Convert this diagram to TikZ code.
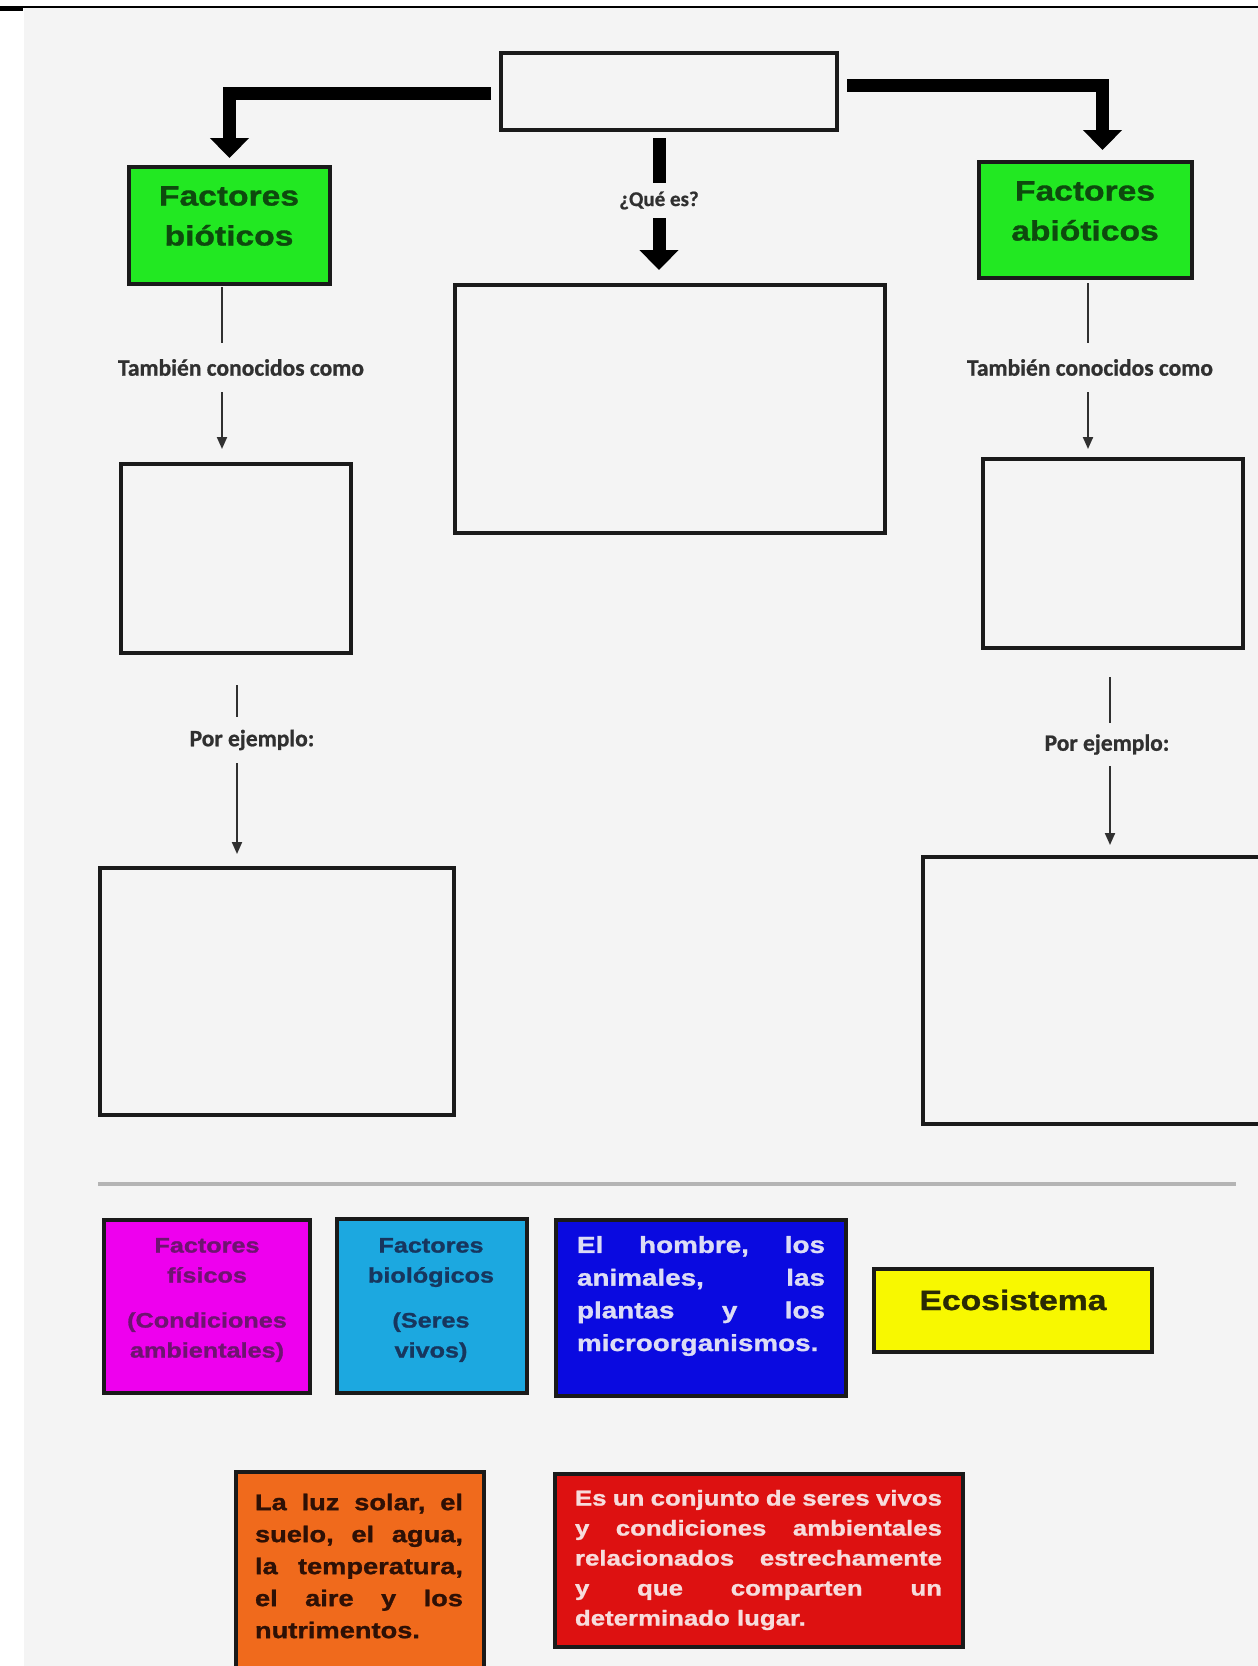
\documentclass[tikz,border=0pt]{standalone}
\usepackage{fontspec}
\setmainfont{Liberation Sans}
\newfontfamily\arx[FakeStretch=1.2, BoldFeatures={FakeBold=1.2}]{Liberation Sans}
\newfontfamily\carl[BoldFeatures={FakeBold=0.8}]{Carlito}
\usetikzlibrary{arrows.meta}
\definecolor{bg}{HTML}{F4F4F4}
\definecolor{boxline}{HTML}{1A1A1A}
\definecolor{greenfill}{HTML}{22E822}
\definecolor{greentxt}{HTML}{0E4A0E}
\definecolor{magfill}{HTML}{EE00EE}
\definecolor{magtxt}{HTML}{6E1470}
\definecolor{cyanfill}{HTML}{1CA8E0}
\definecolor{cyantxt}{HTML}{17365E}
\definecolor{bluefill}{HTML}{0A0AE0}
\definecolor{bluetxt}{HTML}{DCDCF5}
\definecolor{yelfill}{HTML}{F8F800}
\definecolor{yeltxt}{HTML}{2A2A05}
\definecolor{orafill}{HTML}{F06A1C}
\definecolor{oratxt}{HTML}{2E1005}
\definecolor{redfill}{HTML}{DD1111}
\definecolor{redtxt}{HTML}{F7DCDC}
\definecolor{lbl}{HTML}{303030}
\definecolor{sep}{HTML}{B4B4B4}
\begin{document}
\begin{tikzpicture}[x=1pt,y=-1pt,
  box/.style={draw=boxline, line width=3.5pt, inner sep=0pt, outer sep=0pt, rectangle},
  bigline/.style={line width=13pt, draw=black},
  bigarrow/.style={line width=13pt, draw=black, -{Triangle[width=38pt,length=20pt]}},
  thinline/.style={line width=2pt, draw=lbl},
  thinarrow/.style={line width=2pt, draw=lbl, -{Triangle[width=10pt,length=12pt]}},
  lab/.style={inner sep=0pt, outer sep=0pt, text=lbl, font=\carl\bfseries\fontsize{23.5}{26}\selectfont},
  txt/.style={inner sep=0pt, outer sep=0pt}
]
\useasboundingbox (0,0) rectangle (1258,1666);
\fill[white] (0,0) rectangle (1258,1666);
\fill[bg] (24,8) rectangle (1258,1666);
\draw[black, line width=2pt] (0,6.5) -- (1258,6.5);
\fill[black] (0,7) rectangle (23,11);

% top part
\node[box, minimum width=336pt, minimum height=77pt] (top) at (669,91.5) {};
\node[box, minimum width=430pt, minimum height=248pt] (cbox) at (670,409) {};
\node[box, fill=greenfill, minimum width=201pt, minimum height=117pt] (bio) at (229.5,225.5) {};
\node[box, fill=greenfill, minimum width=213pt, minimum height=116pt] (abio) at (1085.5,220) {};
\node[txt, text=greentxt, align=center, font=\arx\bfseries\fontsize{28}{40}\selectfont] (biot) at (229,216) {Factores\\bióticos};
\node[txt, text=greentxt, align=center, font=\arx\bfseries\fontsize{28}{40}\selectfont] (abiot) at (1085,211) {Factores\\abióticos};

\node[box, minimum width=230pt, minimum height=189pt] (lb2) at (236,558.5) {};
\node[box, minimum width=260pt, minimum height=189pt] (rb2) at (1113,553.5) {};
\node[box, minimum width=354pt, minimum height=247pt] (lb3) at (277,991.5) {};
\node[box, minimum width=352pt, minimum height=267pt] (rb3) at (1099,990.5) {};

% thick arrows
\draw[bigarrow, shorten <=10pt, shorten >=9pt] ([yshift=-2pt]top.west) -| (bio.north);
\draw[bigarrow, shorten <=10pt, shorten >=12pt] ([yshift=6pt]top.east) -| ([xshift=17pt]abio.north);
\node[lab, font=\carl\bfseries\fontsize{21}{24}\selectfont, minimum height=35pt] (que) at (659,200.5) {¿Qué es?};
\draw[bigline, shorten <=8pt] (top.south -| que.north) -- (que.north);
\draw[bigarrow, shorten >=15pt] (que.south) -- (cbox.north -| que.south);

% thin connectors
\coordinate (xl1) at (222,0);
\coordinate (xr1) at (1088,0);
\coordinate (xl2) at (237,0);
\coordinate (xr2) at (1110,0);
\node[lab, minimum height=49pt] (tam1) at (241,367.5) {También conocidos como};
\node[lab, minimum height=49pt] (tam2) at (1090,367.5) {También conocidos como};
\node[lab, minimum height=46pt] (por1) at (252,740) {Por ejemplo:};
\node[lab, minimum height=43pt] (por2) at (1107,744.5) {Por ejemplo:};
\draw[thinline, shorten <=3pt] (bio.south -| xl1) -- (tam1.north -| xl1);
\draw[thinarrow, shorten >=15pt] (tam1.south -| xl1) -- (lb2.north -| xl1);
\draw[thinline, shorten <=5pt] (abio.south -| xr1) -- (tam2.north -| xr1);
\draw[thinarrow, shorten >=10pt] (tam2.south -| xr1) -- (rb2.north -| xr1);
\draw[thinline, shorten <=32pt] (lb2.south -| xl2) -- (por1.north -| xl2);
\draw[thinarrow, shorten >=14pt] (por1.south -| xl2) -- (lb3.north -| xl2);
\draw[thinline, shorten <=29pt] (rb2.south -| xr2) -- (por2.north -| xr2);
\draw[thinarrow, shorten >=12pt] (por2.south -| xr2) -- (rb3.north -| xr2);

% separator
\draw[sep, line width=4pt] (98,1184) -- (1236,1184);

% bottom boxes
\node[box, fill=magfill, minimum width=206pt, minimum height=173pt] (mag) at (207,1306.5) {};
\node[txt, text=magtxt, align=center, font=\arx\bfseries\fontsize{21}{30}\selectfont] (magt) at (207,1300) {Factores\\físicos\\[15pt](Condiciones\\ambientales)};
\node[box, fill=cyanfill, minimum width=190pt, minimum height=174pt] (cya) at (432,1306) {};
\node[txt, text=cyantxt, align=center, font=\arx\bfseries\fontsize{21}{30}\selectfont] (cyat) at (431,1300) {Factores\\biológicos\\[15pt](Seres\\vivos)};
\node[box, fill=bluefill, minimum width=290pt, minimum height=176pt] (blu) at (701,1308) {};
\node[txt, text=bluetxt, align=left, font=\arx\bfseries\fontsize{23.2}{32.7}\selectfont] (blut) at (701,1296) {\makebox[248pt]{El\hfill hombre,\hfill los}\\\makebox[248pt]{animales,\hfill las}\\\makebox[248pt]{plantas\hfill y\hfill los}\\\makebox[248pt][l]{microorganismos.}};
\node[box, fill=yelfill, minimum width=278pt, minimum height=83pt] (yel) at (1013,1310.5) {};
\node[txt, text=yeltxt, font=\arx\bfseries\fontsize{28}{32}\selectfont] (yelt) at (1013,1300) {Ecosistema};

\node[box, fill=orafill, minimum width=248pt, minimum height=218pt] (ora) at (360,1581) {};
\node[txt, text=oratxt, align=left, font=\arx\bfseries\fontsize{22.7}{32}\selectfont] (orat) at (359,1566) {\makebox[208pt]{La\hfill luz\hfill solar,\hfill el}\\\makebox[208pt]{suelo,\hfill el\hfill agua,}\\\makebox[208pt]{la\hfill temperatura,}\\\makebox[208pt]{el\hfill aire\hfill y\hfill los}\\\makebox[208pt][l]{nutrimentos.}};
\node[box, fill=redfill, minimum width=408pt, minimum height=173pt] (red) at (759,1560.5) {};
\node[txt, text=redtxt, align=left, font=\arx\bfseries\fontsize{21.5}{30}\selectfont] (redt) at (758.5,1560) {\makebox[367pt]{Es\hfill un\hfill conjunto\hfill de\hfill seres\hfill vivos}\\\makebox[367pt]{y\hfill condiciones\hfill ambientales}\\\makebox[367pt]{relacionados\hfill estrechamente}\\\makebox[367pt]{y\hfill que\hfill comparten\hfill un}\\\makebox[367pt][l]{determinado lugar.}};
\end{tikzpicture}
\end{document}
